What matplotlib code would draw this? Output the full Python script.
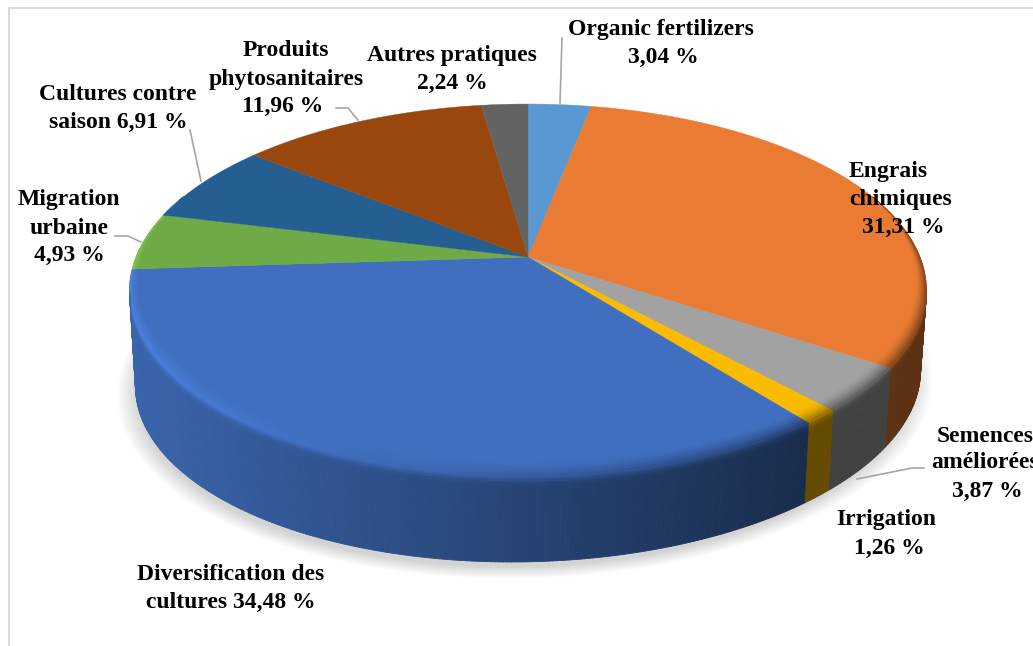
import numpy as np
import matplotlib
matplotlib.use("Agg")
import matplotlib.pyplot as plt
from matplotlib.collections import PolyCollection
from matplotlib.colors import to_rgb

categories = ["Organic fertilizers", "Engrais chimiques", "Semences améliorées", "Irrigation",
              "Diversification des cultures", "Migration urbaine", "Cultures contre saison",
              "Produits phytosanitaires", "Autres pratiques"]
values = [3.04, 31.31, 3.87, 1.26, 34.48, 4.93, 6.91, 11.96, 2.24]
colors = ["#5A98D3", "#E97B32", "#A2A2A2", "#FBBC00", "#406FBF", "#6EAA46", "#255E91", "#9A470D", "#636363"]

W, H = 1033, 646
CX, CY = 528.0, 257.0      # apex of the pie on screen
RX, RY = 392.0, 180.5      # projected radii
K = 0.18                   # perspective strength
BOT_Y, BOT_S, SHEAR = 345.0, 0.985, 0.02
N_PER_DEG = 2


def top_xy(theta, r=1.0):
    u, v = r * np.sin(theta), -r * np.cos(theta)
    w = 1 - K * v
    return CX + RX * u / w, CY + RY * v / w


def bot_xy(theta):
    u, v = np.sin(theta), -np.cos(theta)
    w = 1 - K * v
    x = CX + BOT_S * RX * u / w
    y = BOT_Y + BOT_S * RY * v / w - SHEAR * (x - CX)
    return x, y


def side_factor(x):
    return np.clip(0.90 - 0.5 * (x - 135) / 665, 0.40, 0.90)


def rim_factor(x):
    return np.clip(1.17 - 0.62 * (x - 135) / 700, 0.55, 1.17)


def rim_width(theta):
    v = -np.cos(theta)
    fade = np.clip((v + 0.35) / 0.35, 0, 1)
    return fade * (0.018 + 0.042 * max(v, 0))


fig = plt.figure(figsize=(W / 100, H / 100), dpi=100, facecolor="white")
ax = fig.add_axes([0, 0, 1, 1])
ax.set_xlim(0, W)
ax.set_ylim(H, 0)
ax.axis("off")

# frame
ax.plot([8.5, 8.5, W], [H, 7.5, 7.5], color="#d9d9d9", lw=1.4, zorder=0, solid_joinstyle="miter")

# soft shadow beneath the pie
all_t = np.radians(np.linspace(0, 360, 361))
bx, by = bot_xy(all_t)
for g in np.linspace(1.04, 0.985, 22):
    ax.fill(CX - 3 + (bx - CX) * g, BOT_Y + 8 + (by - BOT_Y) * g, color="black", alpha=0.0085, lw=0, zorder=1)

# cumulative angles
edges = np.radians(np.concatenate([[0], np.cumsum(values)]) * 3.6)

side_polys, side_cols = [], []
rim_polys, rim_cols = [], []
top_polys, top_cols = [], []
STEPS = 6

for i, c in enumerate(colors):
    base = np.array(to_rgb(c))
    t0, t1 = edges[i], edges[i + 1]
    n = max(2, int(np.degrees(t1 - t0) * N_PER_DEG) + 1)
    ts = np.linspace(t0, t1, n + 1)
    # flat face of the slice
    ax_t = np.linspace(t0, t1, 200)
    fx, fy = top_xy(ax_t)
    top_polys.append(np.column_stack([np.r_[CX, fx], np.r_[CY, fy]]))
    top_cols.append(base)
    for a, b in zip(ts[:-1], ts[1:]):
        m = (a + b) / 2
        xm, _ = top_xy(m)
        xa, ya = top_xy(a); xb, yb = top_xy(b)
        xc, yc = bot_xy(b); xd, yd = bot_xy(a)
        sf = np.clip(base * side_factor(xm), 0, 1)
        rf = np.clip(base * rim_factor(xm), 0, 1)
        # side wall: only the part in front of the silhouette tangents
        if -np.cos(m) > 0.17:
            side_polys.append([(xa, ya), (xb, yb), (xc, yc), (xd, yd)])
            side_cols.append(sf)
            # blend from the rim into the wall over a few pixels
            for s0, s1 in zip(np.linspace(0, 0.09, 4)[:-1], np.linspace(0, 0.09, 4)[1:]):
                q = (s0 + s1) / 0.18
                pa0 = (xa + (xd - xa) * s0, ya + (yd - ya) * s0)
                pb0 = (xb + (xc - xb) * s0, yb + (yc - yb) * s0)
                pb1 = (xb + (xc - xb) * s1, yb + (yc - yb) * s1)
                pa1 = (xa + (xd - xa) * s1, ya + (yd - ya) * s1)
                rim_polys.append([pa0, pb0, pb1, pa1])
                rim_cols.append(rf * (1 - q) + sf * q)
        # bevel on the top face
        wa, wb = rim_width(a), rim_width(b)
        if wa + wb > 0:
            for k in range(STEPS):
                s0, s1 = k / STEPS, (k + 1) / STEPS
                p = [top_xy(a, 1 - wa * (1 - s0)), top_xy(b, 1 - wb * (1 - s0)),
                     top_xy(b, 1 - wb * (1 - s1)), top_xy(a, 1 - wa * (1 - s1))]
                rim_polys.append(p)
                q = ((s0 + s1) / 2) ** 1.5
                rim_cols.append(base * (1 - q) + rf * q)

ax.add_collection(PolyCollection(side_polys, facecolors=side_cols, edgecolors=side_cols, linewidths=0.6, zorder=2))
ax.add_collection(PolyCollection(top_polys, facecolors=top_cols, edgecolors=top_cols, linewidths=0.3, zorder=3))
ax.add_collection(PolyCollection(rim_polys, facecolors=rim_cols, edgecolors=rim_cols, linewidths=0.4, zorder=4))

# leader lines
leaders = [([562, 560], [38, 103]),
           ([336, 348, 358], [108, 108, 120]),
           ([190, 201], [130, 181]),
           ([115, 128, 141], [236, 236, 242]),
           ([924, 912, 857], [468, 468, 479])]
for lx, ly in leaders:
    ax.plot(lx, ly, color="#a6a6a6", lw=1.2, zorder=5)


def pct(v):
    return f"{v:.2f}".replace(".", ",") + " %"


labels = [
    (["Organic fertilizers", pct(values[0])], [(661, 29), (663, 57)]),
    (["Engrais", "chimiques", pct(values[1])], [(888, 172), (901, 200), (903, 227)]),
    (["Semences", "améliorées", pct(values[2])], [(985, 436), (985, 463), (987, 491)]),
    (["Irrigation", pct(values[3])], [(886, 520), (889, 548)]),
    (["Diversification des", "cultures " + pct(values[4])], [(231, 574), (231, 602)]),
    (["Migration", "urbaine", pct(values[5])], [(69, 200), (69, 228), (69, 255)]),
    (["Cultures contre", "saison " + pct(values[6])], [(118, 95), (118, 122)]),
    (["Produits", "phytosanitaires", pct(values[7])], [(286, 51), (286, 79), (283, 106)]),
    (["Autres pratiques", pct(values[8])], [(452, 56), (452, 83)]),
]
for lines, pos in labels:
    for s, (x, y) in zip(lines, pos):
        ax.text(x, y, s, family="Liberation Serif", weight="bold", fontsize=17, color="black",
                ha="center", va="center", zorder=6)

fig.savefig("out.png", dpi=100, facecolor="white")
